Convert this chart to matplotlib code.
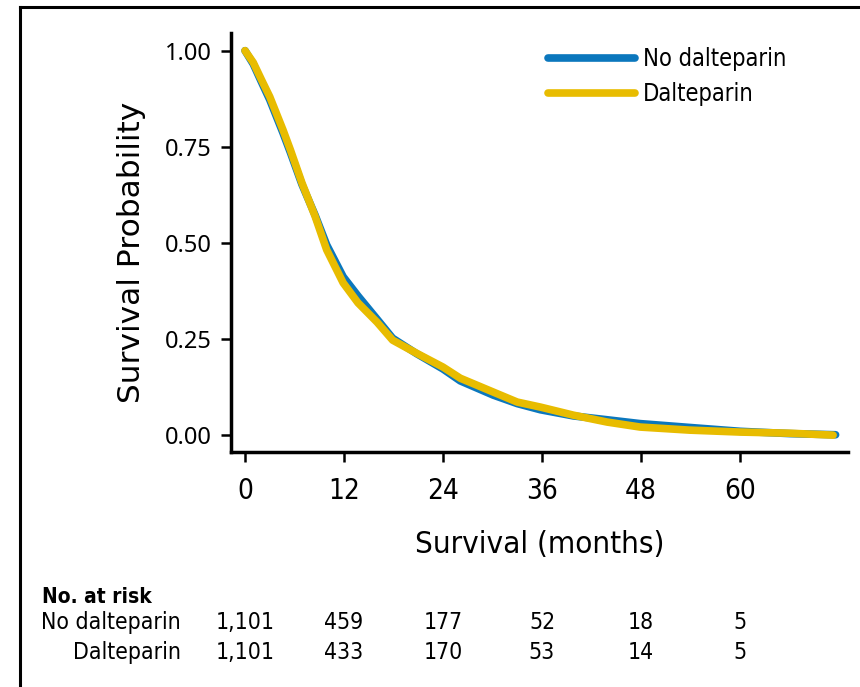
import matplotlib
matplotlib.use("Agg")
import matplotlib.pyplot as plt
from matplotlib import font_manager as fm
from matplotlib.lines import Line2D
from matplotlib.transforms import blended_transform_factory

# Kaplan-Meier estimates, read at selected months
months_no = [0, 1, 2, 3, 4.6, 5.5, 6.9, 8.5, 9.9, 11.9, 13.7, 16, 17.9, 20.8, 24,
             26.1, 30.1, 33, 35.8, 39.8, 43.9, 47.9, 53.9, 60, 66, 71.6]
surv_no = [1.0, 0.965, 0.918, 0.872, 0.786, 0.735, 0.652, 0.572, 0.495, 0.412, 0.362,
           0.302, 0.252, 0.212, 0.172, 0.141, 0.104, 0.082, 0.066, 0.050, 0.040,
           0.030, 0.020, 0.010, 0.004, 0.001]

months_dal = [0, 1, 2, 3, 4.6, 5.5, 6.9, 8.5, 9.9, 11.9, 13.7, 16, 17.9, 20.8, 24,
              26.1, 30.1, 33, 35.8, 39.8, 43.9, 47.9, 53.9, 60, 66, 71.3]
surv_dal = [1.0, 0.969, 0.924, 0.880, 0.794, 0.742, 0.656, 0.569, 0.482, 0.396, 0.344,
            0.294, 0.247, 0.213, 0.177, 0.148, 0.112, 0.086, 0.073, 0.052, 0.034,
            0.021, 0.013, 0.008, 0.005, 0.0]

risk_times = [0, 12, 24, 36, 48, 60]
risk_no = ["1,101", "459", "177", "52", "18", "5"]
risk_dal = ["1,101", "433", "170", "53", "14", "5"]

blue = "#0b77bd"
gold = "#e8bc00"

# pick a narrow face for the labels if one is installed
names = {f.name for f in fm.fontManager.ttflist}
cond = fm.findfont(fm.FontProperties(family="DejaVu Sans", stretch="condensed"))
if "Liberation Sans Narrow" in names:
    narrow = dict(family="Liberation Sans Narrow")
elif "Condensed" in cond:
    narrow = dict(family="DejaVu Sans", stretch="condensed")
else:
    narrow = dict(family="Roboto")

fig = plt.figure(figsize=(8.6, 6.87), dpi=100)
ax = fig.add_axes([0.2686, 0.342, 0.7174, 0.61])

ax.plot(months_no, surv_no, color=blue, lw=5.5, solid_capstyle="round",
        solid_joinstyle="round", label="No dalteparin", zorder=2)
ax.plot(months_dal, surv_dal, color=gold, lw=5.5, solid_capstyle="round",
        solid_joinstyle="round", label="Dalteparin", zorder=3)

ax.set_xlim(-1.7, 73.1)
ax.set_ylim(-0.044, 1.046)
ax.set_xticks(risk_times)
ax.set_yticks([0, 0.25, 0.5, 0.75, 1.0])
ax.set_yticklabels(["0.00", "0.25", "0.50", "0.75", "1.00"])

for s in ["top", "right"]:
    ax.spines[s].set_visible(False)
for s in ["left", "bottom"]:
    ax.spines[s].set_linewidth(2.5)

ax.tick_params(axis="both", length=7, width=1.8, color="black")
ax.tick_params(axis="y", pad=7)
ax.tick_params(axis="x", pad=11)
for lab in ax.get_xticklabels():
    lab.update(narrow)
    lab.set_fontsize(20)
for lab in ax.get_yticklabels():
    lab.set_family("Noto Sans")
    lab.set_fontsize(17)

ax.set_ylabel("Survival Probability", fontsize=22.5, family="DejaVu Sans")
ax.yaxis.set_label_coords(-0.138, 0.477)
ax.set_xlabel("Survival (months)", fontsize=22.5, labelpad=18, **narrow)

leg = ax.legend(loc="upper right", bbox_to_anchor=(0.935, 1.017), frameon=False,
                prop=fm.FontProperties(size=17, **narrow), handlelength=3.7,
                handletextpad=0.35, labelspacing=0.48)

# number-at-risk table under the axis
tr = blended_transform_factory(ax.transData, fig.transFigure)
fig.text(0.0488, 0.131, "No. at risk", fontsize=15, fontweight="bold",
         va="center", ha="left", **narrow)
fig.text(0.2105, 0.0932, "No dalteparin", fontsize=16.5,
         va="center", ha="right", **narrow)
fig.text(0.2105, 0.0509, "Dalteparin", fontsize=16.5,
         va="center", ha="right", **narrow)
for t, a, b in zip(risk_times, risk_no, risk_dal):
    ax.text(t, 0.0932, a, transform=tr, fontsize=16.5,
            ha="center", va="center", clip_on=False, **narrow)
    ax.text(t, 0.0509, b, transform=tr, fontsize=16.5,
            ha="center", va="center", clip_on=False, **narrow)

# border lines along the top and left
fig.add_artist(Line2D([0.0233, 1.0], [0.9898, 0.9898], color="black", lw=2.2,
                      transform=fig.transFigure))
fig.add_artist(Line2D([0.0233, 0.0233], [-0.01, 0.9898], color="black", lw=2.2,
                      transform=fig.transFigure))

fig.savefig("out.png", dpi=100)
